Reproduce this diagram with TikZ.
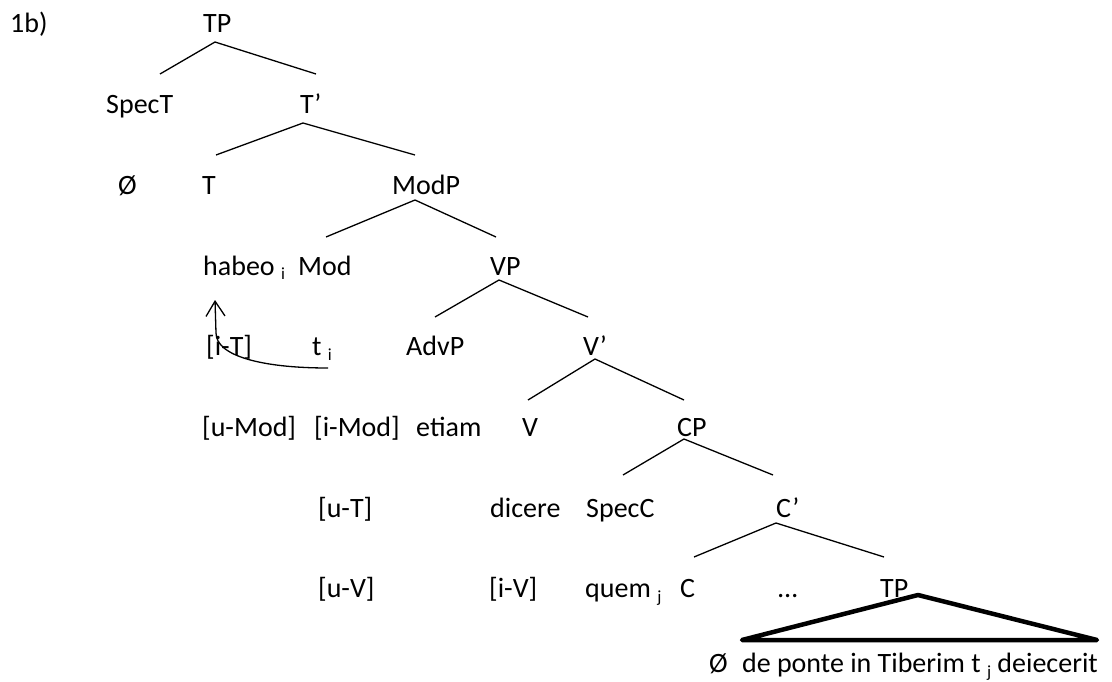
\documentclass[tikz,border=0pt]{standalone}
\usepackage{fontspec}
\setmainfont{Carlito}
\usetikzlibrary{arrows.meta, positioning}
\tikzstyle{word} = [anchor=base west, inner sep=0pt, font=\fontsize{28}{34}\selectfont]
\tikzstyle{branch} = [line width=1.3pt]
\tikzstyle{roof} = [line width=4.5pt, line join=round]
\tikzstyle{move} = [line width=1.3pt, -{Straight Barb[length=15pt, width=19pt]}]
\newcommand{\sub}[1]{\raisebox{-5pt}{\fontsize{17}{17}\selectfont #1}}

\begin{document}
\begin{tikzpicture}[x=1pt, y=-1pt]

    \useasboundingbox (0,0) rectangle (1112,682);

    \node (label) [word] at (10,33) {1b)};
    \node (TP) [word] at (203,33) {TP};

    \node (SpecT) [word] at (106,114) {SpecT};
    \node (Tbar) [word] at (300,114) {T’};

    \node (nullT) [word] at (118,194) {Ø};
    \node (T) [word] at (202,194) {T};
    \node (ModP) [word] at (392,194) {ModP};

    \node (habeo) [word] at (203,275) {habeo \sub{i}};
    \node (Mod) [word] at (298,275) {Mod};
    \node (VP) [word] at (490,275) {VP};

    \node (iT) [word] at (206,355) {[i-T]};
    \node (trace) [word] at (312,355) {t \sub{i}};
    \node (AdvP) [word] at (406,355) {AdvP};
    \node (Vbar) [word] at (583,355) {V’};

    \node (uMod) [word] at (202,436) {[u-Mod]};
    \node (iMod) [word] at (314,436) {[i-Mod]};
    \node (etiam) [word] at (416,436) {etiam};
    \node (V) [word] at (522,436) {V};
    \node (CP) [word] at (677,436) {CP};

    \node (uT) [word] at (318,517) {[u-T]};
    \node (dicere) [word] at (490,517) {dicere};
    \node (SpecC) [word] at (586,517) {SpecC};
    \node (Cbar) [word] at (776,517) {C’};

    \node (uV) [word] at (318,597) {[u-V]};
    \node (iV) [word] at (489,597) {[i-V]};
    \node (quem) [word] at (585,597) {quem \sub{j}};
    \node (C) [word] at (680,597) {C};
    \node (dots) [word] at (778,597) {…};
    \node (lowTP) [word] at (880,597) {TP};

    \node (deponte) [word, anchor=base east] at (1098,672) {de ponte in Tiberim t \sub{j} deiecerit};
    \node (nullC) [word, base left=14pt of deponte] {Ø};

    % branches
    \coordinate (tp-a) at (215,42);
    \coordinate (tp-l) at (160,74);
    \coordinate (tp-r) at (316,74);
    \draw[branch] (tp-l) -- (tp-a) -- (tp-r);

    \coordinate (tb-a) at (303,123);
    \coordinate (tb-l) at (216,155);
    \coordinate (tb-r) at (415,155);
    \draw[branch] (tb-l) -- (tb-a) -- (tb-r);

    \coordinate (mp-a) at (415,200);
    \coordinate (mp-l) at (326,237);
    \coordinate (mp-r) at (496,237);
    \draw[branch] (mp-l) -- (mp-a) -- (mp-r);

    \coordinate (vp-a) at (499,280);
    \coordinate (vp-l) at (435,317);
    \coordinate (vp-r) at (588,317);
    \draw[branch] (vp-l) -- (vp-a) -- (vp-r);

    \coordinate (vb-a) at (595,359);
    \coordinate (vb-l) at (528,400);
    \coordinate (vb-r) at (684,400);
    \draw[branch] (vb-l) -- (vb-a) -- (vb-r);

    \coordinate (cp-a) at (684,439);
    \coordinate (cp-l) at (623,475);
    \coordinate (cp-r) at (773,475);
    \draw[branch] (cp-l) -- (cp-a) -- (cp-r);

    \coordinate (cb-a) at (776,523);
    \coordinate (cb-l) at (694,557);
    \coordinate (cb-r) at (884,557);
    \draw[branch] (cb-l) -- (cb-a) -- (cb-r);

    % roof over the lower TP
    \coordinate (roof-a) at (918,595);
    \coordinate (roof-l) at (742,640);
    \coordinate (roof-r) at (1097,640);
    \draw[roof] (roof-a) -- (roof-l) -- (roof-r) -- cycle;

    % head movement
    \coordinate (mv-s) at (328,368);
    \coordinate (mv-e) at (215,300);
    \draw[move] (mv-s) .. controls (262,368) and (216,356) .. (216,333) -- (mv-e);

\end{tikzpicture}
\end{document}
